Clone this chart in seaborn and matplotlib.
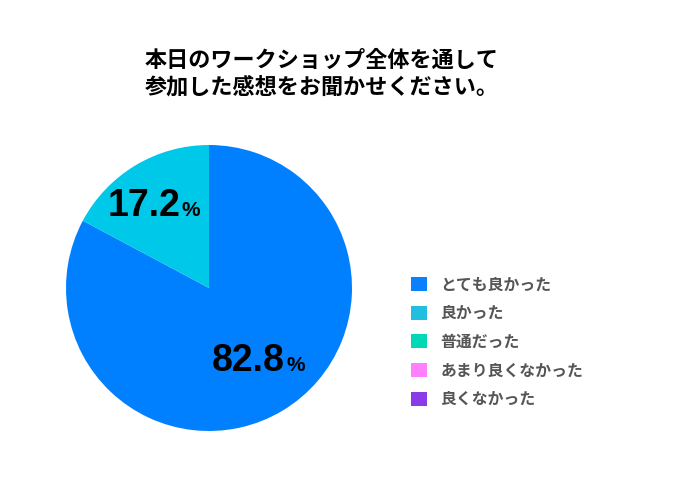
import matplotlib
matplotlib.use('Agg')
import matplotlib.pyplot as plt
import matplotlib.patches as mpatches
import seaborn as sns
import numpy as np

sns.set_theme(style='white')
plt.rcParams['font.family'] = ['Noto Sans CJK JP', 'DejaVu Sans']

# データ
title = '本日のワークショップ全体を通して\n参加した感想をお聞かせください。'
categories = ['とても良かった', '良かった', '普通だった', 'あまり良くなかった', '良くなかった']
values = [82.8, 17.2, 0.0, 0.0, 0.0]
colors = ['#0080FF', '#00C8E8', '#00D9B5', '#FF80FF', '#8A3AE6']
legend_colors = ['#0A80FF', '#22BEE0', '#00D9B5', '#FF80FF', '#8A3AE6']

fig = plt.figure(figsize=(6.8, 4.8), dpi=100)
ax = fig.add_axes([66/680, 49/480, 286/680, 286/480])

wedges, _ = ax.pie(values, colors=colors, startangle=90, counterclock=False,
                   wedgeprops=dict(linewidth=0))
ax.set_xlim(-1, 1)
ax.set_ylim(-1, 1)
ax.set_aspect('equal')

# パーセント表示 (ラベル位置の微調整つき)
label_r = [0.60, 0.71, 0.6, 0.6, 0.6]
nudge = [(3.5, -1.5), (-2.5, -6), (0, 0), (0, 0), (0, 0)]
for w, v, r, (nx, ny) in zip(wedges, values, label_r, nudge):
    if v <= 0:
        continue
    mid = np.deg2rad((w.theta1 + w.theta2) / 2)
    x, y = r * np.cos(mid), r * np.sin(mid)
    ax.annotate(f'{v:.1f}', (x, y), xytext=(19.5 + nx, 2 + ny), textcoords='offset points',
                ha='right', va='center', fontsize=27, fontweight='bold',
                family='Liberation Sans', color='black')
    ax.annotate('%', (x, y), xytext=(20.5 + nx, -1 + ny), textcoords='offset points',
                ha='left', va='center', fontsize=15, fontweight='bold',
                family='Liberation Sans', color='black')

# タイトル
fig.text(145/680, 1 - 49/480, title, ha='left', va='top', fontsize=15.9,
         fontweight='bold', color='black', linespacing=1.2)

# 凡例
handles = [mpatches.Patch(facecolor=c, edgecolor='none') for c in legend_colors]
fig.legend(handles, categories, loc='upper left', bbox_to_anchor=(411/680, 1 - 276.5/480),
           frameon=False, prop=dict(size=11.4, weight='bold'), labelcolor='#555555',
           handlelength=1.0, handleheight=1.0, handletextpad=0.85,
           labelspacing=0.8, borderpad=0, borderaxespad=0)

plt.savefig('out.png', dpi=100)
